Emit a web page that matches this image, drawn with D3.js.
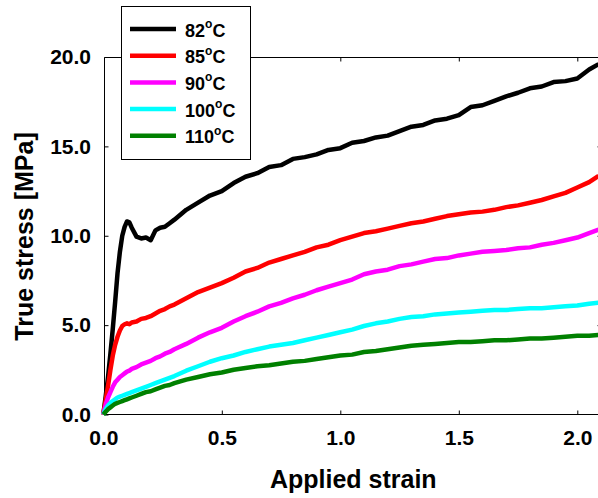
<!DOCTYPE html>
<html>
<head>
<meta charset="utf-8">
<script src="https://cdn.jsdelivr.net/npm/d3@7"></script>
<style>
  html, body { margin: 0; padding: 0; background: #fff; }
  svg { display: block; }
  text { font-family: "Liberation Sans", Arial, sans-serif; }
</style>
</head>
<body>
<svg id="chart" width="598" height="498"></svg>
<script>
// Applied strain (shared sampling grid for all curves)
const strain = [0, 0.01, 0.02, 0.03, 0.04, 0.05, 0.06, 0.07, 0.08, 0.09, 0.10, 0.11, 0.12,
  0.14, 0.16, 0.18, 0.20, 0.22, 0.24, 0.26, 0.28, 0.30,
  0.35, 0.40, 0.45, 0.50, 0.55, 0.60, 0.65, 0.70, 0.75, 0.80, 0.85, 0.90, 0.95, 1.00,
  1.05, 1.10, 1.15, 1.20, 1.25, 1.30, 1.35, 1.40, 1.45, 1.50, 1.55, 1.60, 1.65, 1.70,
  1.75, 1.80, 1.85, 1.90, 1.95, 2.00, 2.05, 2.09];

// True stress [MPa] at each test temperature
const stress82 = [0, 1.0, 2.1, 3.4, 4.8, 6.3, 7.9, 9.1, 10.0, 10.5, 10.8, 10.75, 10.45,
  9.95, 9.85, 9.9, 9.75, 10.3, 10.45, 10.5, 10.7, 10.9,
  11.45, 11.85, 12.25, 12.5, 12.95, 13.3, 13.5, 13.85, 13.95, 14.3, 14.4, 14.55, 14.8, 14.9,
  15.2, 15.3, 15.5, 15.6, 15.85, 16.1, 16.2, 16.45, 16.55, 16.75, 17.2, 17.3, 17.55, 17.8,
  18.0, 18.25, 18.35, 18.6, 18.65, 18.8, 19.3, 19.6];
const stress85 = [0, 0.8, 1.6, 2.5, 3.3, 3.9, 4.35, 4.7, 4.95, 5.05, 5.1, 5.05, 5.15,
  5.2, 5.35, 5.4, 5.5, 5.65, 5.8, 5.9, 6.05, 6.15,
  6.5, 6.85, 7.1, 7.35, 7.65, 8.0, 8.2, 8.5, 8.7, 8.9, 9.1, 9.35, 9.5, 9.75,
  9.95, 10.15, 10.25, 10.4, 10.55, 10.7, 10.8, 10.95, 11.1, 11.2, 11.3, 11.35, 11.45, 11.6,
  11.7, 11.85, 12.0, 12.2, 12.4, 12.7, 13.0, 13.35];
const stress90 = [0, 0.55, 0.95, 1.25, 1.55, 1.8, 1.95, 2.1, 2.2, 2.3, 2.4, 2.45, 2.55,
  2.65, 2.8, 2.9, 3.0, 3.15, 3.25, 3.4, 3.5, 3.65,
  3.95, 4.3, 4.6, 4.85, 5.2, 5.5, 5.75, 6.05, 6.25, 6.5, 6.7, 6.95, 7.15, 7.35,
  7.55, 7.85, 8.0, 8.1, 8.3, 8.4, 8.55, 8.7, 8.75, 8.9, 9.0, 9.1, 9.15, 9.2,
  9.3, 9.35, 9.5, 9.6, 9.75, 9.9, 10.15, 10.35];
const stress100 = [0, 0.3, 0.5, 0.65, 0.75, 0.85, 0.95, 1.0, 1.05, 1.1, 1.15, 1.2, 1.25,
  1.35, 1.45, 1.55, 1.65, 1.75, 1.85, 1.95, 2.05, 2.15,
  2.45, 2.7, 2.95, 3.15, 3.3, 3.5, 3.65, 3.8, 3.9, 4.0, 4.15, 4.3, 4.45, 4.6,
  4.75, 4.95, 5.1, 5.2, 5.35, 5.45, 5.5, 5.6, 5.65, 5.7, 5.75, 5.8, 5.85, 5.85,
  5.9, 5.95, 5.95, 6.0, 6.05, 6.1, 6.2, 6.25];
const stress110 = [0, 0.15, 0.3, 0.4, 0.5, 0.6, 0.65, 0.7, 0.75, 0.8, 0.85, 0.9, 0.95,
  1.05, 1.15, 1.25, 1.3, 1.4, 1.5, 1.6, 1.65, 1.75,
  1.95, 2.1, 2.25, 2.35, 2.5, 2.6, 2.7, 2.75, 2.85, 2.95, 3.0, 3.1, 3.2, 3.3,
  3.35, 3.5, 3.55, 3.65, 3.75, 3.85, 3.9, 3.95, 4.0, 4.05, 4.05, 4.1, 4.15, 4.15,
  4.2, 4.25, 4.25, 4.3, 4.35, 4.4, 4.4, 4.45];

const temperatures = ["82", "85", "90", "100", "110"];
const colors = ["#000000", "#ff0000", "#ff00ff", "#00ffff", "#008000"];
const xTicks = [0, 0.5, 1.0, 1.5, 2.0];
const yTicks = [0, 5, 10, 15, 20];

const series = [stress82, stress85, stress90, stress100, stress110].map((vals, i) => ({
  temp: temperatures[i],
  color: colors[i],
  points: strain.map((s, j) => [s, vals[j]])
}));

const svg = d3.select("#chart");
const x = d3.scaleLinear().domain([0, 2]).range([103.3, 577.3]);
const y = d3.scaleLinear().domain([0, 20]).range([414.5, 57]);

const frameLeft = 104.5, frameRight = 601.5, frameTop = 57.5, frameBottom = 414.5;
const fontTick = "bold 21px 'Liberation Sans', Arial, sans-serif";

// Frame lines
const frame = svg.append("g").attr("stroke", "#000").attr("stroke-width", 1);
frame.append("line").attr("x1", frameLeft).attr("x2", frameLeft).attr("y1", frameTop).attr("y2", frameBottom);
frame.append("line").attr("x1", frameLeft).attr("x2", frameRight).attr("y1", frameBottom).attr("y2", frameBottom);
frame.append("line").attr("x1", frameLeft).attr("x2", frameRight).attr("y1", frameTop).attr("y2", frameTop);
frame.append("line").attr("x1", frameRight).attr("x2", frameRight).attr("y1", frameTop).attr("y2", frameBottom);

function styleAxis(g) {
  g.select(".domain").remove();
  g.selectAll(".tick line").attr("stroke", "#000");
  g.selectAll(".tick text").attr("fill", "#000").style("font", fontTick);
}

// Bottom axis with labels, inward ticks
svg.append("g")
  .attr("transform", `translate(0,${frameBottom})`)
  .call(d3.axisBottom(x).tickValues(xTicks).tickFormat(d3.format(".1f"))
    .tickSizeInner(-4).tickSizeOuter(0).tickPadding(16))
  .call(styleAxis);

// Top axis, ticks only
svg.append("g")
  .attr("transform", `translate(0,${frameTop})`)
  .call(d3.axisTop(x).tickValues(xTicks.slice(1)).tickFormat("")
    .tickSizeInner(-4).tickSizeOuter(0))
  .call(styleAxis);

// Left axis with labels
svg.append("g")
  .attr("transform", `translate(${frameLeft},0)`)
  .call(d3.axisLeft(y).tickValues(yTicks).tickFormat(d3.format(".1f"))
    .tickSizeInner(-4).tickSizeOuter(0).tickPadding(13.5))
  .call(styleAxis);

// Right axis, ticks only
svg.append("g")
  .attr("transform", `translate(${frameRight},0)`)
  .call(d3.axisRight(y).tickValues(yTicks.slice(1)).tickFormat("")
    .tickSizeInner(-4).tickSizeOuter(0))
  .call(styleAxis);

// Stress-strain curves
const line = d3.line().x(d => x(d[0])).y(d => y(d[1]));
svg.append("g").selectAll("path")
  .data(series)
  .join("path")
  .attr("d", d => line(d.points))
  .attr("fill", "none")
  .attr("stroke", d => d.color)
  .attr("stroke-width", 4.5)
  .attr("stroke-linejoin", "round")
  .attr("stroke-linecap", "butt");

// Axis titles
svg.append("text")
  .attr("x", 353.3).attr("y", 487.5)
  .attr("text-anchor", "middle")
  .style("font", "bold 25px 'Liberation Sans', Arial, sans-serif")
  .text("Applied strain");

svg.append("text")
  .attr("transform", "translate(33,236.5) rotate(-90)")
  .attr("text-anchor", "middle")
  .style("font", "bold 25px 'Liberation Sans', Arial, sans-serif")
  .text("True stress [MPa]");

// Legend
const legend = svg.append("g");
legend.append("rect")
  .attr("x", 121.5).attr("y", 6.5).attr("width", 129).attr("height", 153)
  .attr("fill", "#fff").attr("stroke", "#000").attr("stroke-width", 1);

const rowY = d3.scaleLinear().domain([0, 4]).range([29, 135.8]);
const rows = legend.selectAll("g.row").data(series).join("g").attr("class", "row")
  .attr("transform", (d, i) => `translate(0,${rowY(i)})`);
rows.append("line")
  .attr("x1", 130).attr("x2", 176).attr("y1", 0).attr("y2", 0)
  .attr("stroke", d => d.color).attr("stroke-width", 4.5);
const lbl = rows.append("text")
  .attr("x", 185).attr("y", 7.5)
  .style("font", "bold 18px 'Liberation Sans', Arial, sans-serif")
  .attr("fill", "#000");
lbl.append("tspan").text(d => d.temp);
lbl.append("tspan").attr("dy", -8.5).style("font-size", "12px").text("o");
lbl.append("tspan").attr("dy", 8.5).text("C");
</script>
</body>
</html>
